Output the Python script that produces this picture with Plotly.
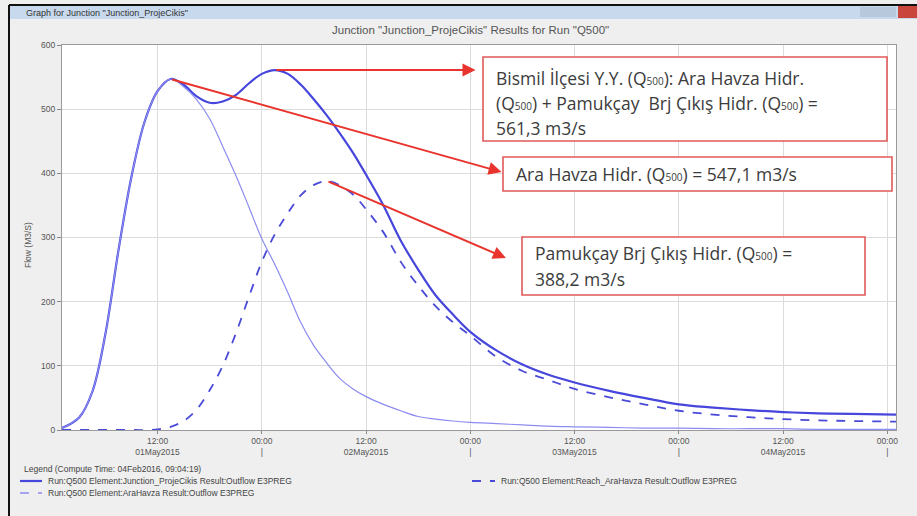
import pandas as pd
import plotly.graph_objects as go

# ---------------- data ----------------
base_time = "2015-05-01 00:00"
hours = [1, 3, 4.5, 6, 7.5, 9, 10.5, 12, 13.5, 15, 16.5, 18, 19.5, 21, 22.5, 24,
         25.5, 27, 28.5, 30, 31.5, 33, 34.5, 36, 38, 40, 42, 44, 46, 48, 51, 54,
         57, 60, 64, 68, 72, 76, 80, 84, 88, 92, 97]

junction_flow = [3, 20, 60, 150, 280, 395, 480, 528, 547, 538, 520, 510, 512, 522,
                 540, 555, 561, 555, 538, 515, 490, 462, 432, 398, 350, 295, 250,
                 210, 180, 153, 124, 102, 86, 74, 61, 50, 40, 35, 31, 28, 26, 25, 24]

arahavza_flow = [3, 20, 60, 150, 280, 395, 480, 528, 547, 535, 515, 485, 442, 397,
                 348, 298, 258, 214, 167, 131, 104, 80, 64, 52, 40, 30, 21, 17, 14,
                 12, 10, 8, 6, 5, 4, 3, 3, 2, 2, 2, 1, 1, 1]

reach_flow = [0, 0, 0, 0, 0, 0, 0, 1, 5, 14, 32, 62, 100, 150, 207, 262, 305, 338,
              366, 382, 388, 381, 367, 344, 308, 262, 225, 193, 168, 147, 114, 92,
              78, 64, 51, 40, 30, 24, 20, 17, 15, 14, 13]

y_ticks = [0, 100, 200, 300, 400, 500, 600]
x_tick_hours = [12, 24, 36, 48, 60, 72, 84, 96]
x_tick_labels = ["12:00<br>01May2015", "00:00<br>|", "12:00<br>02May2015", "00:00<br>|",
                 "12:00<br>03May2015", "00:00<br>|", "12:00<br>04May2015", "00:00<br>|"]

names = ["Run:Q500 Element:Junction_ProjeCikis Result:Outflow E3PREG",
         "Run:Q500 Element:AraHavza Result:Outflow E3PREG",
         "Run:Q500 Element:Reach_AraHavza Result:Outflow E3PREG"]
legend_title = "Legend (Compute Time: 04Feb2016, 09:04:19)"

# ---------------- helpers ----------------
t0 = pd.Timestamp(base_time)
def T(h):
    return t0 + pd.Timedelta(hours=h)

times = [T(h) for h in hours]

W, H = 917, 516
L, R, TOP, BOT = 62, 896, 45, 430
def px(x):
    return (x - L) / (R - L)
def py(y):
    return (BOT - y) / (BOT - TOP)

col_total = "#4646dc"
col_ara = "#8c8cf0"
col_reach = "#4a4ad8"
small_font = "Liberation Sans, Arial, sans-serif"

fig = go.Figure()
fig.add_trace(go.Scatter(x=times, y=junction_flow, mode="lines", name=names[0],
                         line=dict(color=col_total, width=2.2, shape="spline")))
fig.add_trace(go.Scatter(x=times, y=reach_flow, mode="lines", name=names[2],
                         line=dict(color=col_reach, width=1.8, dash="dash", shape="spline")))
fig.add_trace(go.Scatter(x=times, y=arahavza_flow, mode="lines", name=names[1],
                         line=dict(color=col_ara, width=1.2, shape="spline")))

# ---------------- annotations (boxes + arrows) ----------------
txt_font = dict(family="Open Sans, Noto Sans, sans-serif", size=17.5, color="#3c3c3c")
box_color = "#e05a5a"
arrow_color = "#e8342c"
Q = "Q<span style='font-size:10px'>500</span>"

box_lines = [
    (494, 78, f"Bismil İlçesi Y.Y. ({Q}): Ara Havza Hidr."),
    (494, 103, f"({Q}) + Pamukçay  Brj Çıkış Hidr. ({Q}) ="),
    (494, 128, "561,3 m3/s"),
    (514, 174, f"Ara Havza Hidr. ({Q}) = 547,1 m3/s"),
    (533, 253, f"Pamukçay Brj Çıkış Hidr. ({Q}) ="),
    (533, 279, "388,2 m3/s"),
]
ann = []
for (bx, by, bt) in box_lines:
    ann.append(dict(xref="paper", yref="paper", x=px(bx), y=py(by), xanchor="left", yanchor="middle",
                    text=bt, align="left", showarrow=False, font=txt_font))

def peak(series):
    i = max(range(len(series)), key=lambda k: series[k])
    return times[i], series[i]

pj = peak(junction_flow)
pa = peak(arahavza_flow)
pr = peak(reach_flow)
arrow_heads = [(T(48.6), 561), (T(51.6), 402), (T(52.1), 268)]
for (tx, ty), (hx, hy) in zip([pj, pa, pr], arrow_heads):
    ann.append(dict(x=hx, y=hy, xref="x", yref="y", ax=tx, ay=ty, axref="x", ayref="y",
                    showarrow=True, arrowhead=2, arrowsize=1.3, arrowwidth=2,
                    arrowcolor=arrow_color, text=""))

# Title, window title, y title
ann.append(dict(xref="paper", yref="paper", x=px(470), y=py(30), xanchor="center", yanchor="middle",
                text='Junction "Junction_ProjeCikis" Results for Run "Q500"', showarrow=False,
                font=dict(family=small_font, size=11.5, color="#555")))
ann.append(dict(xref="paper", yref="paper", x=px(24), y=py(13), xanchor="left", yanchor="middle",
                text='Graph for Junction "Junction_ProjeCikis"', showarrow=False,
                font=dict(family=small_font, size=9, color="#333")))
ann.append(dict(xref="paper", yref="paper", x=px(28), y=py(245), xanchor="center", yanchor="middle",
                text="Flow (M3/S)", textangle=-90, showarrow=False,
                font=dict(family=small_font, size=8.5, color="#555")))

# Manual legend text
leg_font = dict(family=small_font, size=8.5, color="#444")
ann.append(dict(xref="paper", yref="paper", x=px(22), y=py(469), xanchor="left", yanchor="middle",
                text=legend_title, showarrow=False, font=leg_font))
for (lx, ly, nm) in [(46, 481, names[0]), (46, 493, names[1]), (499, 481, names[2])]:
    ann.append(dict(xref="paper", yref="paper", x=px(lx), y=py(ly), xanchor="left", yanchor="middle",
                    text=nm, showarrow=False, font=leg_font))

shapes = []
for (x0, y0, x1, y1) in [(483, 57, 887, 141), (503, 157, 892, 191), (522, 237, 865, 295)]:
    shapes.append(dict(type="rect", xref="paper", yref="paper", x0=px(x0), x1=px(x1),
                       y0=py(y1), y1=py(y0), line=dict(color=box_color, width=1.6),
                       fillcolor="white", layer="above"))
# legend samples
shapes.append(dict(type="line", xref="paper", yref="paper", x0=px(20), x1=px(42), y0=py(481), y1=py(481),
                   line=dict(color=col_total, width=2.2)))
shapes.append(dict(type="line", xref="paper", yref="paper", x0=px(20), x1=px(42), y0=py(493), y1=py(493),
                   line=dict(color=col_ara, width=1.5, dash="dash")))
shapes.append(dict(type="line", xref="paper", yref="paper", x0=px(472), x1=px(495), y0=py(481), y1=py(481),
                   line=dict(color=col_reach, width=1.8, dash="dash")))
# window chrome
shapes.append(dict(type="rect", xref="paper", yref="paper", x0=px(10), x1=px(917), y0=py(19), y1=py(6),
                   line=dict(width=0), fillcolor="#c8d9ee", layer="below"))
shapes.append(dict(type="rect", xref="paper", yref="paper", x0=px(898), x1=px(917), y0=py(18), y1=py(6),
                   line=dict(width=0), fillcolor="#c9463c", layer="below"))
shapes.append(dict(type="rect", xref="paper", yref="paper", x0=px(860), x1=px(896), y0=py(17), y1=py(7),
                   line=dict(width=0), fillcolor="#b8c8dc", layer="below"))
shapes.append(dict(type="line", xref="paper", yref="paper", x0=px(9), x1=px(9), y0=py(516), y1=py(5),
                   line=dict(color="#111", width=2)))
shapes.append(dict(type="line", xref="paper", yref="paper", x0=px(9), x1=px(917), y0=py(5), y1=py(5),
                   line=dict(color="#111", width=2)))

fig.update_layout(
    width=W, height=H,
    margin=dict(l=L, r=W - R, t=TOP, b=H - BOT, autoexpand=False),
    paper_bgcolor="#efefef", plot_bgcolor="white",
    annotations=ann, shapes=shapes,
    showlegend=False,
    xaxis=dict(range=[T(1), T(97)], tickvals=[T(h) for h in x_tick_hours], ticktext=x_tick_labels,
               showgrid=True, gridcolor="#dcdcdc", gridwidth=1, zeroline=False,
               showline=True, linecolor="#9a9a9a", mirror=True, ticks="outside", ticklen=3,
               tickcolor="#888", tickfont=dict(family=small_font, size=8.5, color="#555")),
    yaxis=dict(range=[0, 600], tickvals=y_ticks, showgrid=True, gridcolor="#dcdcdc", gridwidth=1,
               zeroline=False, showline=True, linecolor="#9a9a9a", mirror=True, ticks="outside",
               ticklen=4, tickcolor="#888",
               tickfont=dict(family=small_font, size=8.5, color="#555")),
)

fig.write_html("out.html")
